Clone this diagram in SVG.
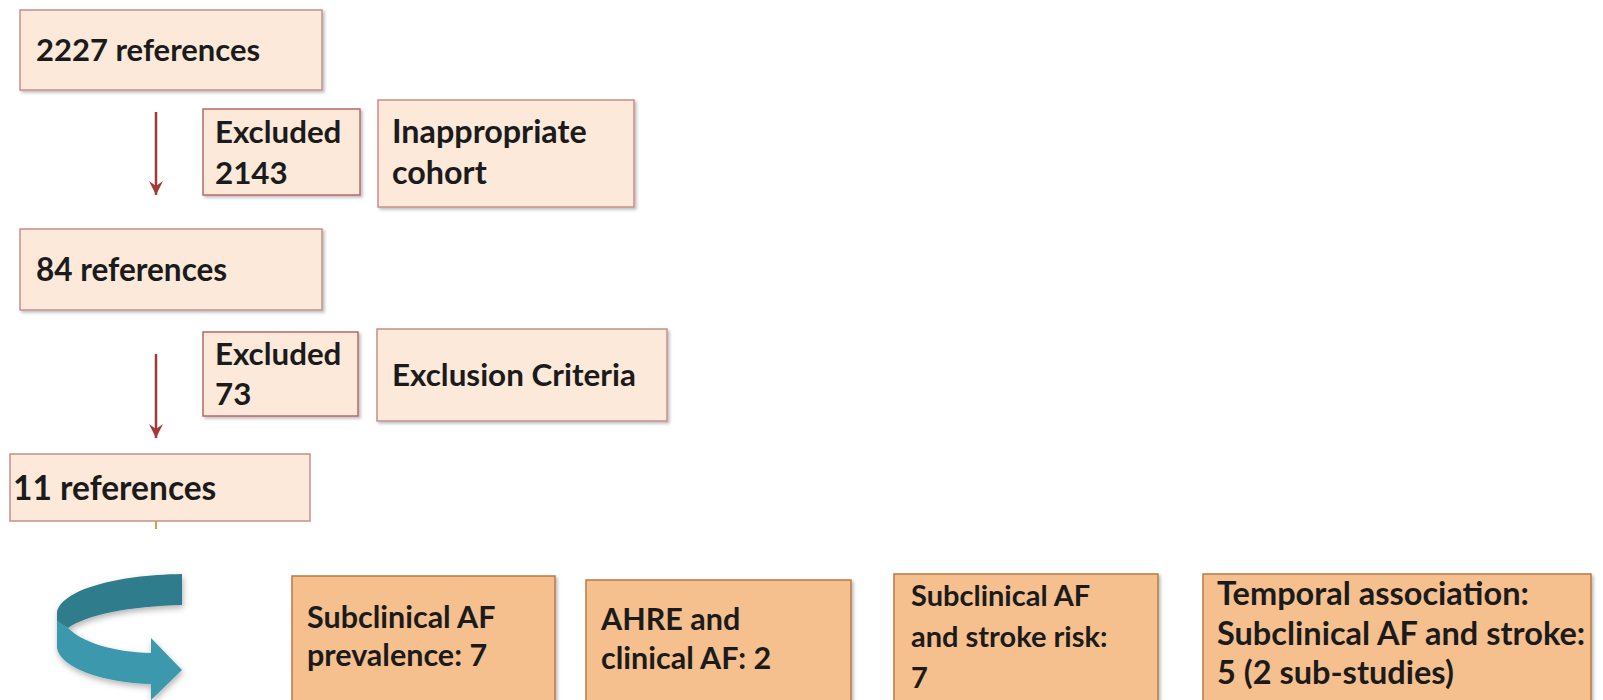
<svg xmlns="http://www.w3.org/2000/svg" width="1603" height="700" viewBox="0 0 1603 700">
<defs>
<style>
.t{font-family:Lato,"Liberation Sans",sans-serif;font-weight:bold;font-size:29px;fill:#1b1b1b}
.lt{fill:#fde9da;stroke:#c4908a;stroke-width:1.5}
.ex{fill:#fde9da;stroke:#b86a63;stroke-width:1.5}
.or{fill:#f5bf8e;stroke:#b97a45;stroke-width:1.5}
.ar{stroke:#a33a38;stroke-width:2.5;fill:none}
</style>
<filter id="sh" x="-10%" y="-10%" width="125%" height="130%">
<feDropShadow dx="2" dy="2" stdDeviation="1.5" flood-color="#000" flood-opacity="0.25"/>
</filter>
<filter id="sh2" x="-20%" y="-20%" width="140%" height="140%">
<feDropShadow dx="1" dy="3" stdDeviation="3" flood-color="#000" flood-opacity="0.3"/>
</filter>
<marker id="ah" viewBox="0 0 16 16" refX="15" refY="8" markerWidth="16" markerHeight="16" markerUnits="userSpaceOnUse" orient="auto">
<path d="M1,1 L15,8 L1,15 L6,8 Z" fill="#a33a38"/>
</marker>
</defs>
<rect width="1603" height="700" fill="#fff"/>

<g id="connectors">
<line class="ar" x1="156" y1="112" x2="156" y2="195" marker-end="url(#ah)"/>
<line class="ar" x1="156" y1="354" x2="156" y2="438" marker-end="url(#ah)"/>
<line x1="156" y1="521" x2="156" y2="529" stroke="#e59a4a" stroke-width="2"/>
</g>

<g id="n2227">
<rect class="lt" x="20" y="10" width="302" height="80" filter="url(#sh)"/>
<text class="t" x="36" y="61" style="font-size:31px">2227 references</text>
</g>
<g id="ex2143">
<rect class="ex" x="203" y="109" width="157" height="86" filter="url(#sh)"/>
<text class="t" x="215" y="143" style="font-size:31.3px">Excluded</text>
<text class="t" x="215" y="184" style="font-size:31.3px">2143</text>
</g>
<g id="inappropriate">
<rect class="lt" x="378" y="100" width="256" height="107" filter="url(#sh)"/>
<text class="t" x="392" y="143" style="font-size:32.3px">Inappropriate</text>
<text class="t" x="392" y="184" style="font-size:32.3px">cohort</text>
</g>
<g id="n84">
<rect class="lt" x="20" y="229" width="302" height="81" filter="url(#sh)"/>
<text class="t" x="36" y="281" style="font-size:31.5px">84 references</text>
</g>
<g id="ex73">
<rect class="ex" x="203" y="332" width="155" height="84" filter="url(#sh)"/>
<text class="t" x="215" y="365" style="font-size:31.3px">Excluded</text>
<text class="t" x="215" y="405" style="font-size:31.3px">73</text>
</g>
<g id="exclusion">
<rect class="lt" x="377" y="329" width="290" height="92" filter="url(#sh)"/>
<text class="t" x="392" y="386" style="font-size:31.4px">Exclusion Criteria</text>
</g>
<g id="n11">
<rect class="lt" x="10" y="454" width="300" height="67"/>
<text class="t" x="13" y="500" style="font-size:33.5px">11 references</text>
</g>

<g id="curved-arrow" filter="url(#sh2)">
<path d="M57,612 L57,648 C60,668 105,683 151,684 L151,700 L182,670 L151,638 L151,653 C112,652 82,642 68,628 L57,621 Z" fill="#3b98ad"/>
<path d="M182,574 C115,575 62,590 57,612 L57,621 L68,628 C86,615 130,606 182,605 Z" fill="#2f7b8c"/>
</g>

<g id="b1">
<rect class="or" x="292" y="576" width="263" height="130" filter="url(#sh)"/>
<text class="t" x="307" y="628" style="font-size:30.5px">Subclinical AF</text>
<text class="t" x="307" y="666" style="font-size:30.5px">prevalence: 7</text>
</g>
<g id="b2">
<rect class="or" x="586" y="580" width="265" height="126" filter="url(#sh)"/>
<text class="t" x="601" y="630" style="font-size:30.5px">AHRE and</text>
<text class="t" x="601" y="669" style="font-size:30.5px">clinical AF: 2</text>
</g>
<g id="b3">
<rect class="or" x="894" y="574" width="264" height="132" filter="url(#sh)"/>
<text class="t" x="911" y="606">Subclinical AF</text>
<text class="t" x="911" y="647">and stroke risk:</text>
<text class="t" x="911" y="688">7</text>
</g>
<g id="b4">
<rect class="or" x="1203" y="574" width="388" height="132" filter="url(#sh)"/>
<text class="t" x="1217" y="605" style="font-size:32.5px">Temporal association:</text>
<text class="t" x="1217" y="645" style="font-size:32.5px">Subclinical AF and stroke:</text>
<text class="t" x="1217" y="684" style="font-size:32.5px">5 (2 sub-studies)</text>
</g>
</svg>
